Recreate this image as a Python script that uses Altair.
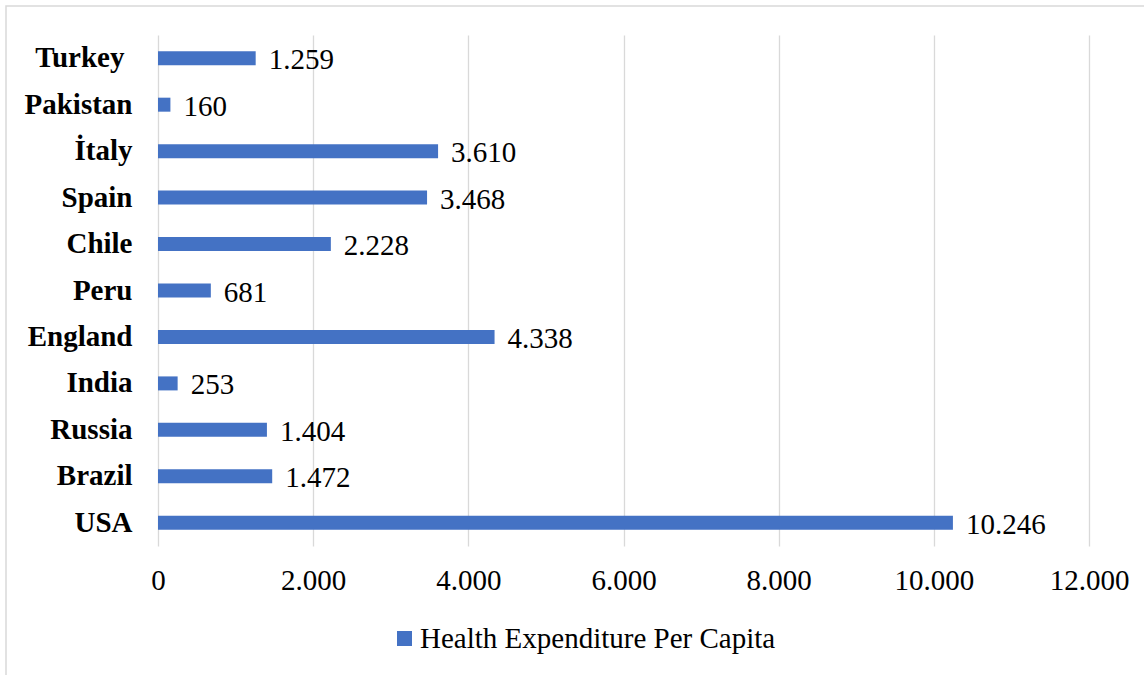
import altair as alt
import pandas as pd

countries = ["Turkey", "Pakistan", "İtaly", "Spain", "Chile", "Peru",
             "England", "India", "Russia", "Brazil", "USA"]
values = [1259, 160, 3610, 3468, 2228, 681, 4338, 253, 1404, 1472, 10246]
series_name = "Health Expenditure Per Capita"
x_ticks = [0, 2000, 4000, 6000, 8000, 10000, 12000]

df = pd.DataFrame({"country": countries, "value": values, "series": series_name})

FONT = "Liberation Serif"
BLUE = "#4472C4"
W, H = 931, 511
FS = 29

y_enc = alt.Y("country:N", sort=countries,
              scale=alt.Scale(paddingInner=0.7, paddingOuter=0.35),
              axis=alt.Axis(title=None, domain=False, ticks=False, grid=False,
                            labelFont=FONT, labelFontSize=FS, labelFontWeight="bold",
                            labelColor="#000000",
                            labelPadding={"condition": {"test": "datum.value == 'Turkey'", "value": 34},
                                          "value": 26}))

x_enc = alt.X("value:Q", scale=alt.Scale(domain=[0, 12000], nice=False),
              axis=alt.Axis(title=None, domain=False, ticks=False, values=x_ticks,
                            grid=True, gridColor="#d9d9d9", gridWidth=1.3,
                            labelFont=FONT, labelFontSize=FS, labelColor="#000000",
                            labelPadding=20, labelFlush=False,
                            labelExpr="replace(format(datum.value, ','), ',', '.')"))

frame = alt.Chart(pd.DataFrame({"f": [0]})).mark_rect(
    fill=None, stroke="#d9d9d9", strokeWidth=1.5).encode(
    x=alt.value(-152), x2=alt.value(W + 120), y=alt.value(-29), y2=alt.value(H + 250))

bars = alt.Chart(df).mark_bar(size=14).encode(
    x=x_enc, y=y_enc,
    color=alt.Color("series:N", scale=alt.Scale(range=[BLUE]),
                    legend=alt.Legend(title=None, orient="none", legendX=232, legendY=589,
                                      symbolType="square", symbolSize=225,
                                      symbolStrokeWidth=0, labelLimit=0,
                                      labelFont=FONT, labelFontSize=FS,
                                      labelColor="#000000", labelOffset=1)))

labels = alt.Chart(df).transform_calculate(
    lbl="replace(format(datum.value, ','), ',', '.')").mark_text(
    align="left", baseline="middle", dx=13, dy=2, font=FONT, fontSize=FS,
    color="#000000").encode(x="value:Q", y=alt.Y("country:N", sort=countries), text="lbl:N")

chart = alt.layer(frame, bars, labels).properties(
    width=W, height=H,
    autosize=alt.AutoSizeParams(type="none"),
    padding={"left": 158, "top": 35, "right": 1144 - 158 - W, "bottom": 675 - 35 - H},
).configure(background="#ffffff").configure_view(stroke="transparent", strokeWidth=0)

chart.save("out.html", embed_options={"renderer": "svg", "actions": False})
